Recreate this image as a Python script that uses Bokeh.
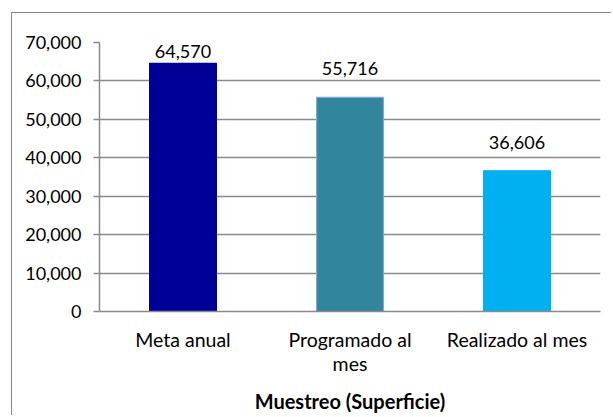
from bokeh.plotting import figure
from bokeh.models import ColumnDataSource, FactorRange, Range1d, FixedTicker, NumeralTickFormatter, LabelSet
from bokeh.core.properties import value
from bokeh.embed import file_html
from bokeh.resources import INLINE

categories = ["Meta anual", "Programado al\nmes", "Realizado al mes"]
values = [64570, 55716, 36606]
value_labels = ["64,570", "55,716", "36,606"]
colors = ["#000099", "#31859C", "#00B0F0"]
edge_colors = ["#000099", "#7BA7D7", "#00B0F0"]
label_offsets = [5, 22, 22]
y_ticks = [0, 10000, 20000, 30000, 40000, 50000, 60000, 70000]
axis_title = "Muestreo (Superficie)"

FONT = "Lato"
GRAY = "#8a8a8a"

source = ColumnDataSource(dict(cat=categories, val=values, lab=value_labels,
                               col=colors, edge=edge_colors, off=label_offsets))

p = figure(x_range=FactorRange(*categories, range_padding=0),
           y_range=Range1d(0, 70000),
           width=600, height=403, output_backend="svg", toolbar_location=None,
           min_border_left=87, min_border_right=12, min_border_top=29, min_border_bottom=105)
p.margin = (12, 0, 0, 11)
p.styles = {"border-top": "1px solid #8a8a8a", "border-left": "1px solid #8a8a8a"}
p.outline_line_color = None

p.vbar(x="cat", top="val", width=0.4, source=source, fill_color="col",
       line_color="edge", line_width=1.2)

p.add_layout(LabelSet(x="cat", y="val", text="lab", source=source, y_offset="off",
                      text_align="center", text_baseline="bottom",
                      text_font=value(FONT), text_font_size=value("18px"),
                      text_color=value("#000000")))

p.xgrid.grid_line_color = None
p.ygrid.grid_line_color = GRAY
p.ygrid.grid_line_width = 1.5
p.ygrid.ticker = FixedTicker(ticks=y_ticks)

ya = p.yaxis[0]
ya.ticker = FixedTicker(ticks=y_ticks)
ya.formatter = NumeralTickFormatter(format="0,0")
ya.axis_line_color = GRAY
ya.axis_line_width = 1.5
ya.major_tick_line_color = GRAY
ya.major_tick_line_width = 1.5
ya.major_tick_out = 6
ya.major_tick_in = 0
ya.minor_tick_line_color = None
ya.major_label_standoff = 12
ya.major_label_text_font = FONT
ya.major_label_text_font_size = "18px"
ya.major_label_text_color = "#000000"

xa = p.xaxis[0]
xa.axis_line_color = GRAY
xa.axis_line_width = 1.5
xa.major_tick_line_color = None
xa.minor_tick_line_color = None
xa.major_label_standoff = 10
xa.major_label_text_font = FONT
xa.major_label_text_font_size = "19.5px"
xa.major_label_text_line_height = 1.05
xa.major_label_text_color = "#000000"
xa.axis_label = axis_title
xa.axis_label_text_font = FONT
xa.axis_label_text_font_size = "20px"
xa.axis_label_text_font_style = "bold"
xa.axis_label_text_color = "#000000"
xa.axis_label_standoff = 11

open("out.html", "w").write(file_html(p, INLINE))
